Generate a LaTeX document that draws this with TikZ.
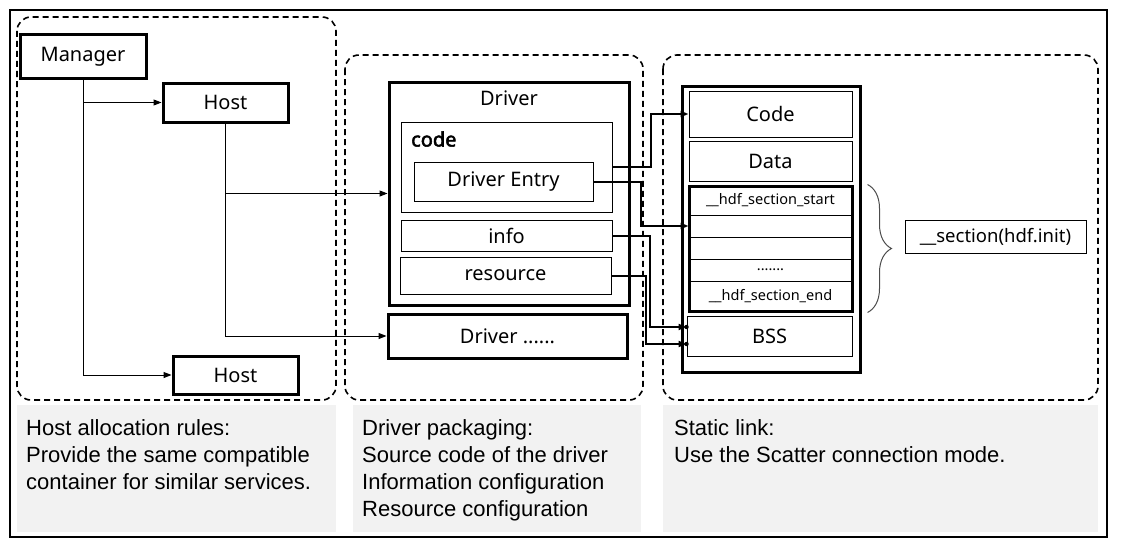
\documentclass[tikz,border=0pt]{standalone}
\usepackage{fontspec}
\setmainfont{Noto Sans}
\newfontfamily\notefont{Liberation Sans}
\newfontfamily\labelfont{Noto Sans}[FakeBold=2.5]
\usetikzlibrary{arrows.meta}
\usetikzlibrary{decorations.pathreplacing}
\definecolor{noteGray}{HTML}{F2F2F2}

\begin{document}
\begin{tikzpicture}[x=1pt,y=-1pt,
  thickbox/.style={draw, line width=3pt, inner sep=0pt, font=\fontsize{20}{24}\selectfont},
  thinbox/.style={draw, line width=1pt, inner sep=0pt, font=\fontsize{20}{24}\selectfont},
  segrow/.style={draw, line width=1pt, inner sep=0pt, minimum width=163pt, font=\fontsize{14.5}{17}\selectfont},
  panel/.style={draw, line width=1.6pt, dash pattern=on 6pt off 4pt, rounded corners=14pt},
  note/.style={anchor=north west, inner sep=0pt, align=left, font=\notefont\fontsize{22}{27}\selectfont},
  thinarr/.style={line width=1pt, -{Triangle[length=8pt,width=6pt]}},
  linkarr/.style={line width=2pt, -{Triangle[length=8pt,width=6pt]}}]
  \useasboundingbox (0,0) rectangle (1124,551);
  \draw[line width=1.5pt] (10,10) rectangle (1107,537);

  % three areas
  \path[panel] (17,17) rectangle (336,400);
  \path[panel] (345,55) rectangle (643,400);
  \path[panel] (663,55) rectangle (1098,400);
  \fill[noteGray] (17,405) rectangle (336,532);
  \fill[noteGray] (353,405) rectangle (641,532);
  \fill[noteGray] (663,405) rectangle (1098,532);

  % host side
  \node[thickbox, minimum width=126pt, minimum height=43pt] (manager) at (83,56.5) {Manager};
  \node[thickbox, minimum width=125pt, minimum height=39pt] (hostA) at (225.5,102.5) {Host};
  \node[thickbox, minimum width=125pt, minimum height=38pt] (hostB) at (235.5,375) {Host};

  % driver package
  \node[thickbox, minimum width=240pt, minimum height=223pt] (driver) at (509,193.5) {};
  \node[font=\fontsize{20}{24}\selectfont, inner sep=0pt] (driverTitle) at (509,98) {Driver};
  \node[thinbox, minimum width=211pt, minimum height=90pt] (codeBox) at (506.5,167) {};
  \node[anchor=west, inner sep=0pt, font=\labelfont\fontsize{20}{24}\selectfont] (codeLabel) at (411,139) {code};
  \node[thinbox, minimum width=179pt, minimum height=39pt] (entry) at (503.5,181.5) {Driver Entry};
  \node[thinbox, minimum width=211pt, minimum height=31pt] (info) at (506.5,235.5) {info};
  \node[thinbox, minimum width=211pt, minimum height=37pt] (res) at (505.5,275.5) {resource};
  \node[thickbox, minimum width=239pt, minimum height=44pt] (driverMore) at (507.5,336) {Driver ......};

  % image layout
  \node[thickbox, minimum width=178pt, minimum height=286pt] (mem) at (771,229) {};
  \node[thinbox, minimum width=163pt, minimum height=46pt] (codeSeg) at (770.5,114) {Code};
  \node[thinbox, minimum width=163pt, minimum height=40pt] (dataSeg) at (770.5,161) {Data};
  \node[segrow, minimum height=29pt] (hdfStart) at (770.5,200.5) {\_\_hdf\_section\_start};
  \node[segrow, minimum height=22pt] (hdfRow1) at (770.5,226) {};
  \node[segrow, minimum height=22pt] (hdfRow2) at (770.5,248) {};
  \node[segrow, minimum height=22pt] (hdfDots) at (770.5,270) {.......};
  \node[segrow, minimum height=30pt] (hdfEnd) at (770.5,296) {\_\_hdf\_section\_end};
  \node[draw, line width=3pt, minimum width=163pt, minimum height=125pt] (hdfGroup) at (770.5,248.5) {};
  \node[thinbox, minimum width=165pt, minimum height=40pt] (bss) at (769.5,336) {BSS};
  \node[thinbox, minimum width=181pt, minimum height=33pt, font=\fontsize{18.5}{22}\selectfont] (sect) at (995.5,236.5) {\_\_section(hdf.init)};
  \draw[decorate, decoration={brace, amplitude=24pt}, line width=1pt, gray!60!black]
    (hdfGroup.north east) ++(14,0) coordinate (braceTop) -- (braceTop |- hdfGroup.south);

  % connectors
  \draw[thinarr] (manager.south) |- (hostB.west);
  \draw[thinarr] (manager.south |- hostA.west) -- (hostA.west);
  \draw[thinarr] (hostA.south) |- (driverMore.west);
  \draw[thinarr] (hostA.south |- driver.west) -- (driver.west);

  \coordinate (bssA) at ([yshift=9pt]bss.west);
  \coordinate (bssB) at ([yshift=-8pt]bss.west);
  \draw[linkarr] (codeBox.east) -- ++(38,0) |- (codeSeg.west);
  \draw[linkarr] (entry.east) -- ++(47,0) |- (hdfRow1.west);
  \draw[linkarr] (info.east) -- ++(37,0) |- (bssA);
  \draw[linkarr] (res.east) -- ++(34,0) |- (bssB);
  \fill (bssA) circle (2.2);
  \fill (bssB) circle (2.2);

  % notes
  \node[note] (noteHost) at (26,419) {Host allocation rules:\\Provide the same compatible\\container for similar services.};
  \node[note] (noteDriver) at (362,419) {Driver packaging:\\Source code of the driver\\Information configuration\\Resource configuration};
  \node[note] (noteLink) at (674,419) {Static link:\\Use the Scatter connection mode.};
\end{tikzpicture}
\end{document}
